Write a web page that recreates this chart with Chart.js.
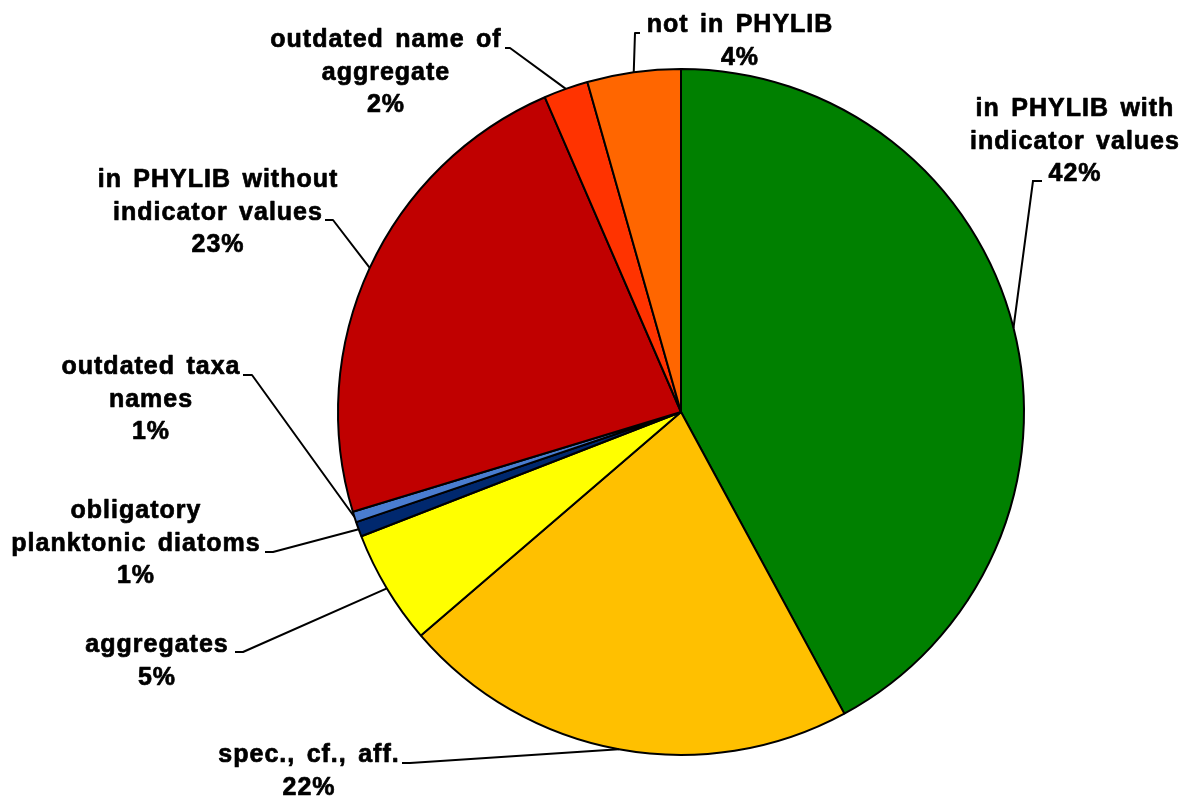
<!DOCTYPE html>
<html>
<head>
<meta charset="utf-8">
<script src="https://cdn.jsdelivr.net/npm/chart.js@4/dist/chart.umd.min.js"></script>
<style>
  html, body { margin: 0; padding: 0; background: #fff; }
  canvas { display: block; }
</style>
</head>
<body>
<canvas id="taxa" width="1187" height="798"></canvas>
<script>
// share of taxa names by PHYLIB status, clockwise from 12 o'clock
const categories = [
  ['in PHYLIB with', 'indicator values'],
  ['spec., cf., aff.'],
  ['aggregates'],
  ['obligatory', 'planktonic diatoms'],
  ['outdated taxa', 'names'],
  ['in PHYLIB without', 'indicator values'],
  ['outdated name of', 'aggregate'],
  ['not in PHYLIB']
];
const shares = [42.1, 21.6, 5.4, 0.7, 0.5, 23.2, 2.1, 4.4];
const colours = ['#008000', '#FFC000', '#FFFF00', '#00286E', '#4A7DD0', '#C00000', '#FF3300', '#FF6600'];

// where each label sits: centre x, first baseline, and the short hook the leader starts from
const labelLayout = [
  { x: 1075, y: 116, hook: [1042, 1033, 181] },
  { x: 309, y: 762, hook: [402, 410, 763] },
  { x: 157, y: 652, hook: [235, 243, 652] },
  { x: 136, y: 518, hook: [265, 273, 552] },
  { x: 151, y: 374, hook: [243, 252, 375] },
  { x: 218, y: 187, hook: [325, 333, 220] },
  { x: 386, y: 47, hook: [505, 510, 48] },
  { x: 740, y: 32, hook: [640, 635, 33] }
];
const lineGap = 32.5;

const leaderLabels = {
  id: 'leaderLabels',
  afterDatasetsDraw(chart) {
    const ctx = chart.ctx;
    const values = chart.data.datasets[0].data;
    const total = values.reduce((a, b) => a + b, 0);
    ctx.save();
    chart.getDatasetMeta(0).data.forEach((arc, i) => {
      const p = arc.getProps(['x', 'y', 'startAngle', 'endAngle', 'outerRadius'], true);
      const mid = (p.startAngle + p.endAngle) / 2;
      const ex = p.x + Math.cos(mid) * p.outerRadius;
      const ey = p.y + Math.sin(mid) * p.outerRadius;
      const lay = labelLayout[i];

      ctx.strokeStyle = '#000';
      ctx.lineWidth = 2;
      ctx.beginPath();
      ctx.moveTo(lay.hook[0], lay.hook[2]);
      ctx.lineTo(lay.hook[1], lay.hook[2]);
      ctx.lineTo(ex, ey);
      ctx.stroke();

      const pct = Math.round(values[i] / total * 100 + 1e-9) + '%';
      const lines = categories[i].concat([pct]);
      ctx.fillStyle = '#000';
      ctx.font = 'bold 25px "Liberation Sans", Arial, sans-serif';
      ctx.letterSpacing = '1px';
      ctx.wordSpacing = '3.5px';
      ctx.textAlign = 'center';
      ctx.textBaseline = 'alphabetic';
      ctx.lineWidth = 0.7;
      ctx.lineJoin = 'round';
      lines.forEach((t, k) => {
        ctx.fillText(t, lay.x, lay.y + k * lineGap);
        ctx.strokeText(t, lay.x, lay.y + k * lineGap);
      });
    });
    ctx.restore();
  }
};

new Chart(document.getElementById('taxa').getContext('2d'), {
  type: 'pie',
  data: {
    labels: categories.map(c => c.join(' ')),
    datasets: [{
      data: shares,
      backgroundColor: colours,
      borderColor: '#000',
      borderWidth: 2
    }]
  },
  options: {
    responsive: false,
    animation: false,
    layout: { padding: { top: 68, bottom: 42, left: 337, right: 162 } },
    plugins: {
      legend: { display: false },
      tooltip: { enabled: false }
    }
  },
  plugins: [leaderLabels]
});
</script>
</body>
</html>
